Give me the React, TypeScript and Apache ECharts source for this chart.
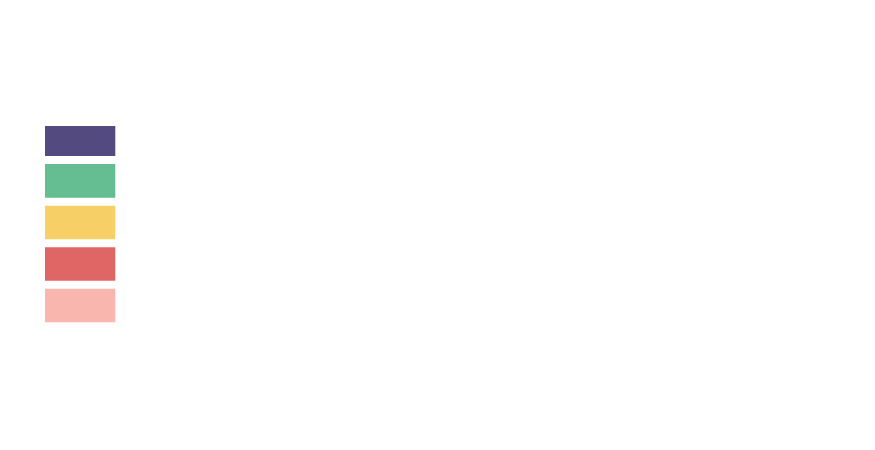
import React, { useEffect, useRef } from "react";
import * as echarts from "echarts";

const categories = ["Total"];
const seriesNames = ["E", "D", "C", "B", "A"];
const seriesValues = [12, 12, 12, 12, 11];
const seriesColors = ["#F9B6AF", "#E06666", "#F6CF67", "#65BD92", "#534A7F"];

export default function App() {
  const ref = useRef<HTMLDivElement>(null);
  useEffect(() => {
    if (!ref.current) return;
    const chart = echarts.init(ref.current, null, { renderer: "svg" });
    chart.setOption({
      animation: false,
      backgroundColor: "#ffffff",
      grid: { left: 41, width: 78.3, top: 122, bottom: 123.7, containLabel: false },
      xAxis: { type: "category", data: categories, show: false },
      yAxis: { type: "value", min: 0, max: 59, show: false },
      series: seriesNames.map((name, i) => ({
        name,
        type: "bar",
        stack: "total",
        barWidth: "100%",
        data: [seriesValues[i]],
        itemStyle: { color: seriesColors[i], borderColor: "#ffffff", borderWidth: 4 },
      })),
    });
    return () => chart.dispose();
  }, []);
  return (
    <div
      ref={ref}
      style={{ position: "fixed", left: 0, top: 0, width: 875, height: 450 }}
    />
  );
}
